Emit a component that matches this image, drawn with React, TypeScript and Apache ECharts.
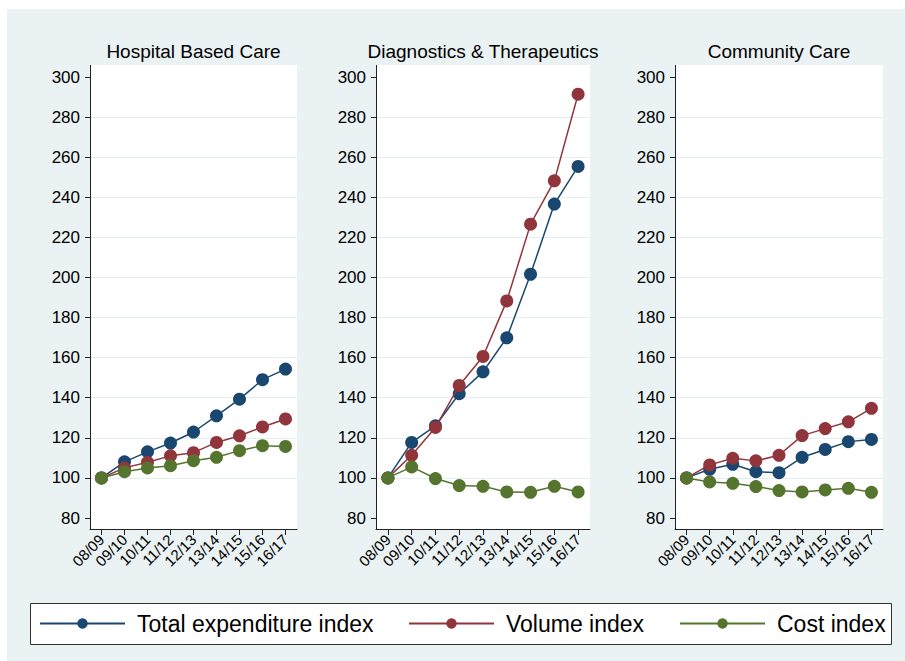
import React, { useEffect, useRef } from "react";
import * as echarts from "echarts";

const categories = ["08/09", "09/10", "10/11", "11/12", "12/13", "13/14", "14/15", "15/16", "16/17"];
const panelTitles = ["Hospital Based Care", "Diagnostics & Therapeutics", "Community Care"];
const seriesNames = ["Total expenditure index", "Volume index", "Cost index"];
const seriesColors = ["#1a476f", "#90353b", "#55752f"];

const hospitalTotal = [100, 108, 113, 117.4, 122.9, 131, 139.3, 149, 154.3];
const hospitalVolume = [100, 105, 107.8, 111, 112.6, 117.7, 121, 125.4, 129.4];
const hospitalCost = [100, 103.1, 105, 106.1, 108.6, 110.3, 113.6, 116.1, 115.7];

const diagTotal = [100, 117.7, 126, 142, 152.9, 169.9, 201.6, 236.6, 255.4];
const diagVolume = [100, 111.3, 125.2, 146.1, 160.6, 188.3, 226.6, 248.2, 291.4];
const diagCost = [100, 105.5, 99.7, 96.2, 95.8, 93, 92.8, 95.8, 93];

const communityTotal = [100, 104.3, 106.8, 103.1, 102.6, 110.3, 114.2, 118.1, 119.2];
const communityVolume = [100, 106.5, 109.8, 108.5, 111.3, 121.1, 124.6, 128, 134.7];
const communityCost = [100, 98, 97.3, 95.7, 93.7, 93, 94, 94.8, 92.8];

const yMin = 80;
const yMax = 300;
const yStep = 20;

const panelData = [
  [hospitalTotal, hospitalVolume, hospitalCost],
  [diagTotal, diagVolume, diagCost],
  [communityTotal, communityVolume, communityCost],
];

const FONT = "'Liberation Sans', Arial, Helvetica, sans-serif";

export default function App() {
  const ref = useRef<HTMLDivElement>(null);

  useEffect(() => {
    document.body.style.margin = "0";
    if (!ref.current) return;
    const chart = echarts.init(ref.current, undefined, { renderer: "svg" });

    const panels = [
      { left: 90, width: 207 },
      { left: 376, width: 214 },
      { left: 675, width: 208 },
    ];
    const gridTop = 77;
    const gridHeight = 441;
    const plotTop = 65;
    const plotBottom = 529;

    const grids = panels.map((p) => ({
      left: p.left,
      width: p.width,
      top: gridTop,
      height: gridHeight,
      containLabel: false,
    }));

    const xAxes = panels.map((_, i) => ({
      type: "category",
      gridIndex: i,
      data: categories,
      boundaryGap: true,
      offset: plotBottom - (gridTop + gridHeight),
      axisLine: { show: true, lineStyle: { color: "#222", width: 1 } },
      axisTick: { show: true, alignWithLabel: true, length: 6, lineStyle: { color: "#222" } },
      axisLabel: {
        interval: 0,
        rotate: 45,
        fontSize: 15,
        fontFamily: FONT,
        color: "#000",
        margin: 8,
      },
      splitLine: { show: false },
    }));

    const yAxes = panels.map((_, i) => ({
      type: "value",
      gridIndex: i,
      min: yMin,
      max: yMax,
      interval: yStep,
      axisLine: { show: false },
      axisTick: { show: true, length: 5, lineStyle: { color: "#222" } },
      axisLabel: { fontSize: 17, fontFamily: FONT, color: "#000", margin: 10 },
      splitLine: {
        show: true,
        showMinLine: false,
        showMaxLine: false,
        lineStyle: { color: "#e4eef0", width: 1.2 },
      },
    }));

    const series: any[] = [];
    panelData.forEach((arrs, pi) => {
      arrs.forEach((vals, si) => {
        series.push({
          type: "line",
          name: seriesNames[si],
          xAxisIndex: pi,
          yAxisIndex: pi,
          data: vals,
          symbol: "circle",
          symbolSize: 13,
          showAllSymbol: true,
          itemStyle: { color: seriesColors[si] },
          lineStyle: { color: seriesColors[si], width: 1.5 },
          z: 3 + si,
        });
      });
    });

    const titles = panels.map((p, i) => ({
      text: panelTitles[i],
      left: p.left + p.width / 2,
      top: 42,
      padding: 0,
      textAlign: "center",
      textStyle: { fontSize: 19, fontWeight: "normal", fontFamily: FONT, color: "#000" },
    }));

    const legendLefts = [39, 408, 679];
    const legends = seriesNames.map((n, i) => ({
      data: [n],
      left: legendLefts[i],
      top: 612,
      padding: 0,
      itemWidth: 85,
      itemHeight: 13,
      selectedMode: false,
      textStyle: { fontSize: 23, fontFamily: FONT, color: "#000", padding: [0, 0, 0, 7] },
    }));

    const graphic: any[] = [
      {
        type: "rect",
        shape: { x: 7, y: 9, width: 905 - 7, height: 661 - 9 },
        style: { fill: "#eaf2f3" },
        z: -20,
        silent: true,
      },
      ...panels.map((p) => ({
        type: "rect",
        shape: { x: p.left, y: plotTop, width: p.width, height: plotBottom - plotTop },
        style: { fill: "#ffffff" },
        z: -10,
        silent: true,
      })),
      ...panels.map((p) => ({
        type: "line",
        shape: { x1: p.left + 0.5, y1: plotTop, x2: p.left + 0.5, y2: plotBottom },
        style: { stroke: "#222", lineWidth: 1 },
        z: 10,
        silent: true,
      })),
      {
        type: "rect",
        shape: { x: 30.5, y: 603.5, width: 861, height: 41 },
        style: { fill: "#ffffff", stroke: "#333", lineWidth: 1 },
        z: -5,
        silent: true,
      },
    ];

    chart.setOption({
      animation: false,
      backgroundColor: "#ffffff",
      title: titles,
      grid: grids,
      xAxis: xAxes,
      yAxis: yAxes,
      legend: legends,
      series,
      graphic,
    });

    return () => chart.dispose();
  }, []);

  return <div ref={ref} style={{ width: 905, height: 661 }} />;
}
